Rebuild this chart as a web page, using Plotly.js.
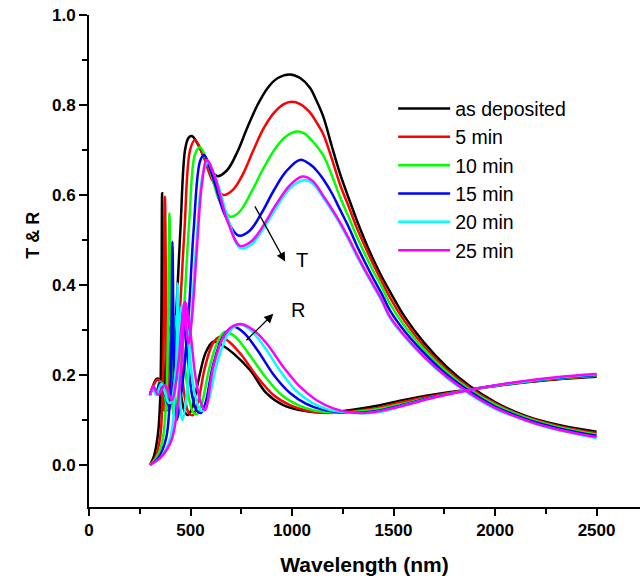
<!DOCTYPE html>
<html>
<head>
<meta charset="utf-8">
<script src="https://cdn.plot.ly/plotly-3.0.1.min.js"></script>
<style>html,body{margin:0;padding:0;background:#fff}#chart{width:640px;height:581px}</style>
</head>
<body>
<div id="chart"></div>
<script>
// ---- Data ----
var seriesNames = ["as deposited", "5 min", "10 min", "15 min", "20 min", "25 min"];
var seriesColors = ["#000000", "#ff0000", "#00ff00", "#0000ff", "#00ffff", "#ff00ff"];

// Transmittance T
var wlT_asdep = [300,320,340,350,356,360,363,367,375,390,410,427,450,473,490,507,540,580,631,680,730,780,830,880,930,990,1040,1089,1120,1154,1195,1236,1280,1319,1360,1401,1440,1483,1557,1650,1762,1877,2000,2100,2200,2337,2500];
var T_asdep   = [0,0.02,0.07,0.14,0.30,0.604,0.45,0.20,0.12,0.14,0.22,0.32,0.52,0.70,0.727,0.731,0.71,0.672,0.642,0.655,0.695,0.75,0.80,0.838,0.86,0.868,0.86,0.838,0.81,0.774,0.71,0.648,0.592,0.544,0.498,0.456,0.42,0.385,0.328,0.272,0.218,0.175,0.14,0.118,0.102,0.087,0.074];

var wlT_5 = [300,325,350,362,369,374,378,383,392,410,430,445,470,498,522,560,610,662,710,760,810,860,910,960,998,1040,1089,1120,1154,1195,1236,1280,1319,1360,1401,1440,1483,1557,1650,1762,1877,2000,2100,2200,2337,2500];
var T_5   = [0,0.015,0.06,0.15,0.33,0.596,0.45,0.20,0.12,0.15,0.24,0.322,0.52,0.70,0.722,0.69,0.63,0.600,0.612,0.648,0.70,0.748,0.782,0.802,0.807,0.802,0.783,0.762,0.735,0.682,0.624,0.573,0.527,0.485,0.445,0.41,0.372,0.318,0.264,0.212,0.171,0.137,0.116,0.100,0.084,0.071];

var wlT_10 = [300,330,360,380,390,396,401,407,418,440,465,495,522,547,590,640,695,740,800,860,920,970,1023,1060,1100,1154,1195,1236,1280,1319,1360,1401,1440,1483,1557,1650,1762,1877,2000,2100,2200,2337,2500];
var T_10   = [0,0.015,0.05,0.14,0.33,0.559,0.40,0.18,0.11,0.16,0.322,0.55,0.69,0.706,0.665,0.59,0.552,0.562,0.607,0.66,0.705,0.73,0.741,0.737,0.72,0.688,0.645,0.596,0.55,0.508,0.468,0.43,0.398,0.358,0.307,0.257,0.207,0.167,0.134,0.114,0.098,0.082,0.068];

var wlT_15 = [300,340,380,400,407,411,415,421,432,460,489,515,547,567,610,670,736,790,850,910,970,1039,1089,1120,1154,1195,1236,1280,1319,1360,1401,1440,1483,1557,1650,1762,1877,2000,2100,2200,2337,2500];
var T_15   = [0,0.015,0.06,0.17,0.33,0.496,0.35,0.16,0.10,0.18,0.322,0.52,0.675,0.689,0.64,0.555,0.510,0.52,0.56,0.61,0.652,0.678,0.668,0.655,0.635,0.605,0.568,0.528,0.488,0.45,0.414,0.382,0.343,0.296,0.249,0.201,0.163,0.130,0.111,0.095,0.079,0.065];

var wlT_20 = [300,350,400,425,433,437,441,448,460,480,500,530,560,585,630,690,746,800,860,920,990,1056,1100,1154,1195,1236,1280,1319,1360,1401,1440,1483,1557,1650,1762,1877,2000,2100,2200,2337,2500];
var T_20   = [0,0.015,0.06,0.17,0.29,0.404,0.30,0.15,0.10,0.15,0.29,0.50,0.645,0.672,0.63,0.54,0.482,0.49,0.526,0.57,0.615,0.633,0.626,0.594,0.566,0.536,0.499,0.464,0.43,0.397,0.366,0.326,0.284,0.239,0.194,0.157,0.125,0.107,0.091,0.075,0.060];

var wlT_25 = [300,360,407,432,455,468,473,480,490,506,530,555,580,620,680,744,800,860,920,990,1050,1100,1154,1195,1236,1280,1319,1360,1401,1440,1483,1557,1650,1762,1877,2000,2100,2200,2337,2500];
var T_25   = [0,0.02,0.056,0.115,0.22,0.33,0.36,0.30,0.27,0.322,0.47,0.62,0.678,0.64,0.545,0.487,0.497,0.533,0.578,0.622,0.641,0.632,0.598,0.57,0.54,0.503,0.468,0.433,0.400,0.369,0.329,0.286,0.241,0.196,0.159,0.127,0.108,0.092,0.076,0.062];

// Reflectance R
var wlR_asdep = [300,315,330,341,350,358,370,385,399,412,430,455,475,489,510,540,575,612,660,711,793,875,957,1039,1120,1203,1300,1433,1532,1700,1926,2100,2300,2500];
var R_asdep   = [0.156,0.175,0.19,0.192,0.16,0.115,0.16,0.26,0.307,0.30,0.24,0.15,0.115,0.111,0.13,0.19,0.25,0.274,0.265,0.248,0.211,0.159,0.133,0.122,0.117,0.118,0.123,0.133,0.143,0.157,0.171,0.181,0.19,0.196];

var wlR_5 = [300,320,338,350,362,372,385,400,416,430,450,472,492,512,535,570,610,645,690,750,830,910,990,1070,1150,1250,1350,1433,1532,1700,1926,2100,2300,2500];
var R_5   = [0.155,0.18,0.19,0.185,0.15,0.12,0.16,0.27,0.322,0.31,0.24,0.15,0.115,0.111,0.135,0.215,0.27,0.285,0.274,0.245,0.195,0.155,0.133,0.121,0.116,0.117,0.122,0.128,0.139,0.154,0.171,0.182,0.191,0.198];

var wlR_10 = [300,318,332,348,362,375,385,400,416,432,450,470,492,512,532,555,590,630,670,720,790,870,950,1030,1110,1190,1280,1370,1433,1532,1700,1926,2100,2300,2500];
var R_10   = [0.155,0.175,0.16,0.185,0.18,0.15,0.125,0.17,0.28,0.333,0.31,0.23,0.15,0.118,0.113,0.135,0.21,0.27,0.296,0.285,0.245,0.195,0.155,0.133,0.121,0.117,0.117,0.121,0.125,0.135,0.152,0.171,0.182,0.192,0.199];

var wlR_15 = [300,316,330,348,362,380,395,415,432,448,465,485,510,532,552,575,610,660,711,760,830,910,990,1070,1150,1230,1310,1400,1433,1532,1700,1926,2100,2300,2500];
var R_15   = [0.155,0.172,0.158,0.182,0.17,0.15,0.13,0.18,0.29,0.344,0.32,0.24,0.15,0.12,0.116,0.14,0.22,0.285,0.307,0.295,0.255,0.2,0.16,0.136,0.123,0.117,0.116,0.119,0.121,0.132,0.151,0.171,0.183,0.193,0.2];

var wlR_20 = [300,316,332,355,375,390,402,425,445,458,475,495,520,545,565,590,630,690,740,790,860,940,1020,1100,1180,1260,1340,1433,1532,1700,1926,2100,2300,2500];
var R_20   = [0.153,0.17,0.155,0.18,0.16,0.14,0.138,0.2,0.31,0.355,0.33,0.25,0.16,0.125,0.12,0.145,0.225,0.295,0.312,0.302,0.265,0.21,0.165,0.138,0.123,0.117,0.115,0.118,0.13,0.15,0.171,0.183,0.194,0.201];

var wlR_25 = [300,317,341,374,407,440,457,473,498,522,547,571,612,662,711,752,810,875,957,1039,1121,1203,1286,1368,1433,1532,1700,1926,2100,2300,2500];
var R_25   = [0.156,0.174,0.156,0.178,0.144,0.226,0.315,0.363,0.30,0.204,0.144,0.122,0.218,0.285,0.309,0.313,0.30,0.27,0.218,0.174,0.144,0.126,0.117,0.116,0.12,0.13,0.15,0.171,0.184,0.195,0.202];

var xTickVals = [0, 500, 1000, 1500, 2000, 2500];
var yTickVals = [0.0, 0.2, 0.4, 0.6, 0.8, 1.0];

// ---- Build traces ----
var tSets = [[wlT_asdep,T_asdep],[wlT_5,T_5],[wlT_10,T_10],[wlT_15,T_15],[wlT_20,T_20],[wlT_25,T_25]];
var rSets = [[wlR_asdep,R_asdep],[wlR_5,R_5],[wlR_10,R_10],[wlR_15,R_15],[wlR_20,R_20],[wlR_25,R_25]];

var traces = [];
for (var i = 0; i < seriesNames.length; i++) {
  traces.push({
    x: tSets[i][0], y: tSets[i][1], type: 'scatter', mode: 'lines',
    name: seriesNames[i], legendgroup: 'g' + i,
    line: {color: seriesColors[i], width: 2.5, shape: 'spline', smoothing: 1}
  });
  traces.push({
    x: rSets[i][0], y: rSets[i][1], type: 'scatter', mode: 'lines',
    name: seriesNames[i] + ' R', legendgroup: 'g' + i, showlegend: false,
    line: {color: seriesColors[i], width: 2.5, shape: 'spline', smoothing: 1}
  });
}

var FONT = 'Liberation Sans, Arial, Helvetica, sans-serif';

var layout = {
  width: 640, height: 581,
  margin: {l: 89, r: 0, t: 15, b: 74},
  paper_bgcolor: '#ffffff', plot_bgcolor: '#ffffff',
  showlegend: true,
  font: {family: FONT, color: '#000000'},
  xaxis: {
    range: [0, 2714],
    tickvals: xTickVals,
    ticks: 'outside', ticklen: 7, tickwidth: 2, tickcolor: '#000',
    minor: {dtick: 250, ticks: 'outside', ticklen: 5, tickwidth: 2, tickcolor: '#000', showgrid: false},
    showline: true, linewidth: 2, linecolor: '#000',
    showgrid: false, zeroline: false,
    tickfont: {family: FONT, size: 17, weight: 'bold', color: '#000'},
    title: {text: 'Wavelength (nm)', font: {family: FONT, size: 21, weight: 'bold', color: '#000'}, standoff: 18}
  },
  yaxis: {
    range: [-0.0933, 1.0],
    tickvals: yTickVals, tickformat: '.1f',
    ticks: 'outside', ticklen: 8, tickwidth: 2, tickcolor: '#000',
    minor: {dtick: 0.1, tick0: 0, ticks: 'outside', ticklen: 5, tickwidth: 2, tickcolor: '#000', showgrid: false},
    showline: true, linewidth: 2, linecolor: '#000',
    showgrid: false, zeroline: false,
    tickfont: {family: FONT, size: 17, weight: 'bold', color: '#000'}
  },
  legend: {
    x: 0.552, y: 0.849, xanchor: 'left', yanchor: 'top',
    bgcolor: 'rgba(0,0,0,0)', borderwidth: 0,
    font: {family: FONT, size: 19.5, color: '#000'},
    itemwidth: 52, tracegroupgap: 0
  },
  annotations: [
    {x: -0.102, y: 0.553, xref: 'paper', yref: 'paper', text: '<b>T &amp; R</b>', textangle: -90,
     showarrow: false, xanchor: 'center', yanchor: 'middle',
     font: {family: FONT, size: 18, color: '#000'}},
    {x: 966, y: 0.452, ax: 813, ay: 0.578, xref: 'x', yref: 'y', axref: 'x', ayref: 'y',
     showarrow: true, arrowhead: 2, arrowsize: 1.4, arrowwidth: 1.3, arrowcolor: '#000', text: ''},
    {x: 908, y: 0.336, ax: 768, ay: 0.274, xref: 'x', yref: 'y', axref: 'x', ayref: 'y',
     showarrow: true, arrowhead: 2, arrowsize: 1.4, arrowwidth: 1.3, arrowcolor: '#000', text: ''},
    {x: 1047, y: 0.456, xref: 'x', yref: 'y', text: 'T', showarrow: false,
     font: {family: FONT, size: 20, color: '#000'}},
    {x: 1031, y: 0.344, xref: 'x', yref: 'y', text: 'R', showarrow: false,
     font: {family: FONT, size: 20, color: '#000'}}
  ]
};

Plotly.newPlot('chart', traces, layout, {displayModeBar: false, staticPlot: true});
</script>
</body>
</html>
